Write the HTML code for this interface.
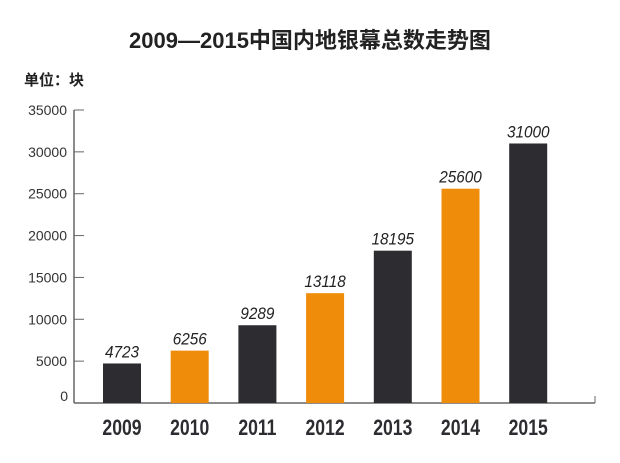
<!DOCTYPE html>
<html><head><meta charset="utf-8"><style>
body{margin:0;background:#fff;}
svg{display:block;font-family:"Liberation Sans","Noto Sans CJK SC",sans-serif;}
</style></head><body>
<svg id="c" width="620" height="463">
<text x="310" y="48" text-anchor="middle" font-size="22" font-weight="bold" fill="#222">2009—2015中国内地银幕总数走势图</text>
<text x="24" y="85" font-size="15" font-weight="bold" fill="#222">单位：块</text>
</svg>
<script>
const categories=["2009","2010","2011","2012","2013","2014","2015"];
const values=[4723,6256,9289,13118,18195,25600,31000];
const highlight=[false,true,false,true,false,true,false];
const ticks=[0,5000,10000,15000,20000,25000,30000,35000];
const svg=document.getElementById('c');
const NS='http://www.w3.org/2000/svg';
const y0=403,y1=110,vmax=35000;
const y=v=>y0-(y0-y1)*v/vmax;
const x=i=>122+i*67.7;
function mk(t,a,txt){const e=document.createElementNS(NS,t);for(const k in a)e.setAttribute(k,a[k]);if(txt!=null)e.textContent=txt;svg.appendChild(e);return e;}
let ax=mk('line',{x1:74,y1:y1,x2:74,y2:y0,stroke:'#666','stroke-width':1.5});


let bx=mk('line',{x1:74,y1:y0,x2:595,y2:y0,stroke:'#666','stroke-width':1.5});


let ex=mk('line',{x1:595,y1:y0-7,x2:595,y2:y0,stroke:'#666','stroke-width':1});


ticks.forEach(t=>{
  if(t>0){let l=mk('line',{x1:74,y1:y(t),x2:84,y2:y(t),stroke:'#666','stroke-width':1});
  
  }
  let tx=mk('text',{x:t===0?68:67,y:y(t)+(t===0?-2:5),'text-anchor':'end','font-size':14,fill:'#333'},String(t));
  
  
});
categories.forEach((c,i)=>{
  const v=values[i],w=38;
  let r=mk('rect',{x:x(i)-w/2,y:y(v),width:w,height:y0-y(v),fill:highlight[i]?'#ef8c0a':'#2d2d31'});
  
  
  let vl=mk('text',{x:x(i),y:y(v)-6,'text-anchor':'middle','font-size':17,'font-style':'italic',fill:'#222',transform:`translate(${x(i)},0) scale(0.9,1) translate(${-x(i)},0)`},String(v));
  
  
  let cl=mk('text',{x:x(i),y:435,'text-anchor':'middle','font-size':22,'font-weight':'bold',fill:'#2d2d31',transform:`translate(${x(i)},0) scale(0.8,1) translate(${-x(i)},0)`},c);
  
  
});
</script>
</body></html>
